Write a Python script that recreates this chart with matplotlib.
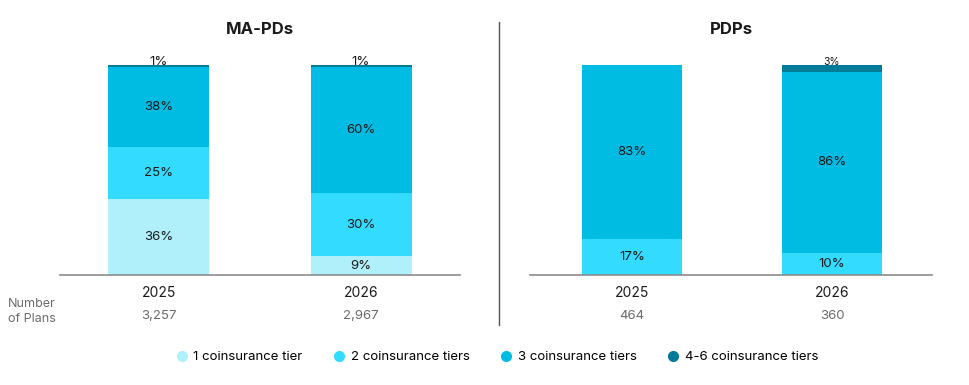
import matplotlib.pyplot as plt
from matplotlib.lines import Line2D

plt.rcParams["font.family"] = ["Inter", "DejaVu Sans"]

# ── Data ────────────────────────────────────────────────────────────────
years = ["2025", "2026"]
tiers = ["1 coinsurance tier", "2 coinsurance tiers",
         "3 coinsurance tiers", "4-6 coinsurance tiers"]

# shares per tier (rows) for each year (columns), in percent
mapd_shares = [[36, 9], [25, 30], [38, 60], [1, 1]]
mapd_plans = ["3,257", "2,967"]

pdp_shares = [[0, 0], [17, 10.4], [83, 86.4], [0, 3.2]]
pdp_plans = ["464", "360"]

colors = ["#b0f0fb", "#33dbff", "#00bce3", "#007c99"]
TEXT = "#1a1a1a"
GREY = "#6b6b6b"

W, H = 970, 385
fig = plt.figure(figsize=(W / 100, H / 100), dpi=100)


def px_axes(x0, x1, y_base, y_top):
    return fig.add_axes([x0 / W, 1 - y_base / H, (x1 - x0) / W, (y_base - y_top) / H])


def draw_panel(ax, title, shares, plans, xlim, small_size):
    bottoms = [0.0] * len(years)
    for t, vals in enumerate(shares):
        for i, v in enumerate(vals):
            if v <= 0:
                continue
            ax.bar(i, v, 0.5, bottom=bottoms[i], color=colors[t], linewidth=0)
            if v >= 5:
                ax.text(i, bottoms[i] + v / 2, f"{round(v)}%", ha="center",
                        va="center", fontsize=9.5, color=TEXT)
            else:
                # thin top segment: label sits just above the bar
                ax.text(i, bottoms[i] + v, f"{round(v)}%", ha="center",
                        va="baseline", fontsize=small_size, color=TEXT,
                        clip_on=False)
            bottoms[i] += v

    ax.set_xlim(*xlim)
    ax.set_ylim(0, 100)
    ax.axis("off")
    ax.axhline(0, color="#8c8c8c", linewidth=1.2, clip_on=False)

    tr = ax.get_xaxis_transform()
    for i, (yr, n) in enumerate(zip(years, plans)):
        ax.text(i, -0.086, yr, ha="center", va="center", fontsize=10,
                color=TEXT, transform=tr)
        ax.text(i, -0.195, n, ha="center", va="center", fontsize=9.5,
                color=GREY, transform=tr)
    ax.text(0.5, 1.0 + 35 / 210, title, ha="center", va="center",
            fontsize=12, fontweight="bold", color=TEXT,
            transform=ax.transAxes)


ax_l = px_axes(60, 460, 275, 65)
draw_panel(ax_l, "MA-PDs", mapd_shares, mapd_plans, (-0.49, 1.49), 9.5)

ax_r = px_axes(530, 932, 275, 65)
draw_panel(ax_r, "PDPs", pdp_shares, pdp_plans, (-0.51, 1.5), 7.5)

# divider between the panels
fig.add_artist(Line2D([499 / W, 499 / W], [1 - 22 / H, 1 - 325 / H],
                      color="#555555", linewidth=1))

# "Number of Plans" row label
fig.text(8 / W, 1 - 304 / H, "Number", ha="left", va="center",
         fontsize=9, color=GREY)
fig.text(8 / W, 1 - 319 / H, "of Plans", ha="left", va="center",
         fontsize=9, color=GREY)

handles = [Line2D([], [], marker="o", linestyle="none", markersize=8,
                  markerfacecolor=c, markeredgewidth=0) for c in colors]
fig.legend(handles, tiers, loc="center", bbox_to_anchor=(0.512, 1 - 357 / H),
           ncol=4, frameon=False, fontsize=9.5, handletextpad=0.35,
           columnspacing=2.3, handlelength=1.0)

fig.savefig("out.png", dpi=100)
